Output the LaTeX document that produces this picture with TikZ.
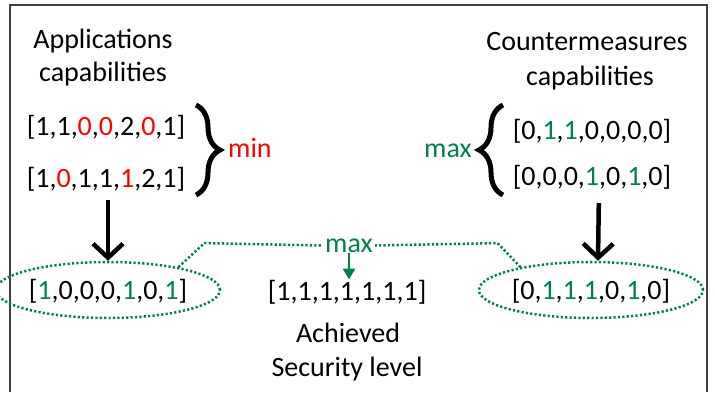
\documentclass[tikz,border=0pt]{standalone}
\usepackage{fontspec}
\setmainfont{Carlito}
\usetikzlibrary{arrows.meta}
\usetikzlibrary{shapes.geometric}
\usetikzlibrary{decorations.pathreplacing}
\definecolor{mred}{RGB}{255,0,0}
\definecolor{mgreen}{RGB}{0,130,70}
\newcommand{\rd}[1]{\textcolor{mred}{#1}}
\newcommand{\gn}[1]{\textcolor{mgreen}{#1}}

\begin{document}
\begin{tikzpicture}[x=1pt,y=1pt,
	txt/.style={inner sep=0pt, anchor=base, font=\fontsize{28}{33}\selectfont},
	vecell/.style={ellipse, draw=mgreen, line width=2.5pt, dash pattern=on 2.2pt off 2.2pt, minimum width=186pt, minimum height=56pt, inner sep=0pt, text height=20pt, text depth=2pt, font=\fontsize{28}{33}\selectfont},
	bigbrace/.style={decorate, decoration={brace, amplitude=24pt}, line width=5pt},
	bigarrow/.style={line width=4.5pt, -{Straight Barb[length=14pt,width=30pt]}},
	dotline/.style={draw=mgreen, line width=2.5pt, dash pattern=on 2.2pt off 2.2pt},
	garrow/.style={mgreen, line width=2.8pt, -{Triangle[length=11pt,width=12pt]}}]
	\useasboundingbox (0,0) rectangle (715,-392);
	\draw[black!75, line width=1.3pt] (10,-392) -- (10,-5) -- (707,-5) -- (707,-392);
	% application side
	\node[txt] (apptop) at (103,-48) {Applications};
	\node[txt] (appbot) at (103,-81) {capabilities};
	\node[txt] (lvta) at (106,-135) {[1,1,\rd{0},\rd{0},2,\rd{0},1]};
	\node[txt] (lvtb) at (106,-187) {[1,\rd{0},1,1,\rd{1},2,1]};
	\draw[bigbrace] (196,-105) -- (196,-195);
	\node[txt, anchor=base west, text=mred] (minlbl) at (228,-157) {min};
	% countermeasure side
	\node[txt] (cmtop) at (587,-50) {Countermeasures};
	\node[txt] (cmbot) at (590,-85) {capabilities};
	\node[txt] (rvta) at (592,-139) {[0,\gn{1},\gn{1},0,0,0,0]};
	\node[txt] (rvtb) at (592,-185) {[0,0,0,\gn{1},0,\gn{1},0]};
	\draw[bigbrace] (503,-195) -- (503,-105);
	\node[txt, anchor=base east, text=mgreen] (maxside) at (472,-157) {max};
	% results
	\node[vecell] (lell) at (108,-290) {[\gn{1},0,0,0,\gn{1},0,\gn{1}]};
	\node[vecell] (rell) at (591,-290) {[0,\gn{1},\gn{1},\gn{1},0,\gn{1},0]};
	\node[txt] (midvec) at (347,-300) {[1,1,1,1,1,1,1]};
	\node[txt] (ach) at (348,-342) {Achieved};
	\node[txt] (sec) at (347,-376) {Security level};
	\node[txt, anchor=center, inner xsep=2pt, text=mgreen] (maxlbl) at (349,-245.5) {max};
	\draw[bigarrow, shorten <=9pt] (lell.north |- lvtb.south) -- (lell.north);
	\draw[bigarrow, shorten <=14pt] ([xshift=7pt]rvtb.south) -- ([xshift=7pt]rell.north);
	\draw[dotline] (lell.18) -- ++(26,24) -- (maxlbl.west);
	\draw[dotline] (rell.162) -- ++(-23,24) -- (maxlbl.east);
	\draw[garrow] (maxlbl.south) -- (midvec.north -| maxlbl.south);
\end{tikzpicture}
\end{document}
